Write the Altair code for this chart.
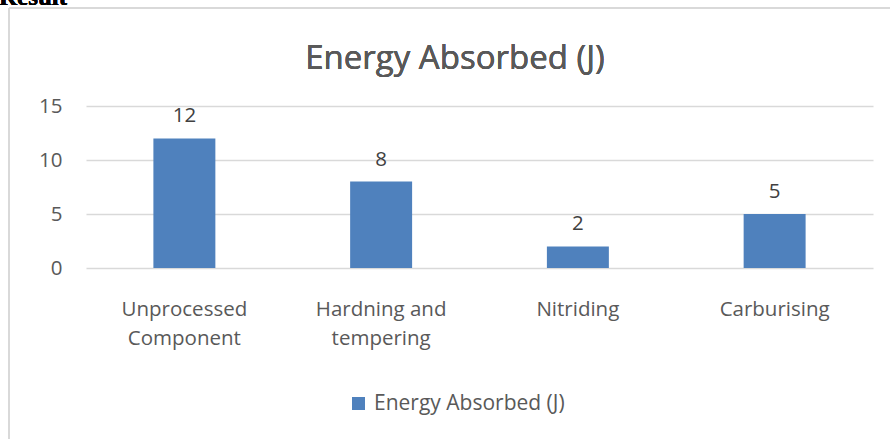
import altair as alt
import pandas as pd

categories = ["Unprocessed\nComponent", "Hardning and\ntempering", "Nitriding", "Carburising"]
values = [12, 8, 2, 5]
series_name = "Energy Absorbed (J)"
y_ticks = [0, 5, 10, 15]

df = pd.DataFrame({"category": categories, "value": values, "series": [series_name] * len(values)})

FONT = "Open Sans"
GREY = "#595959"
BLUE = "#4f81bd"
FS = 20.5

x_enc = alt.X(
    "category:N",
    sort=categories,
    scale=alt.Scale(paddingInner=0.685, paddingOuter=0.3425),
    axis=alt.Axis(
        title=None, labelAngle=0, labelExpr="split(datum.label, '\\n')",
        labelFontSize=FS, labelColor=GREY, labelFont=FONT, labelLineHeight=29,
        labelPadding=31, ticks=False, domain=False, grid=False, labelBaseline="top",
    ),
)
y_enc = alt.Y(
    "value:Q",
    scale=alt.Scale(domain=[0, 15], nice=False),
    axis=alt.Axis(
        title=None, values=y_ticks, labelFontSize=FS, labelColor=GREY, labelFont=FONT,
        labelPadding=24, ticks=False, domain=False, grid=True, gridColor="#d9d9d9", gridWidth=1.5,
    ),
)

bars = alt.Chart(df).mark_bar(color=BLUE).encode(
    x=x_enc,
    y=y_enc,
    color=alt.Color(
        "series:N",
        scale=alt.Scale(range=[BLUE]),
        legend=alt.Legend(
            title=None, orient="none", legendX=262, legendY=287, symbolType="square",
            symbolSize=170, symbolStrokeWidth=0, labelFontSize=21, labelColor=GREY, labelFont=FONT,
            labelOffset=5, padding=0, labelLimit=0,
        ),
    ),
)

labels = alt.Chart(df).mark_text(
    baseline="bottom", dy=-12, fontSize=FS, color="#404040", font=FONT
).encode(x=alt.X("category:N", sort=categories), y="value:Q", text="value:Q")

title = alt.Chart(df).mark_text(
    text=series_name, fontSize=33, font=FONT, color=GREY, align="center", baseline="alphabetic"
).encode(x=alt.value(369), y=alt.value(-37))

frame_top = alt.Chart(df).mark_rule(color="#d9d9d9", strokeWidth=2).encode(
    x=alt.value(-77), x2=alt.value(820), y=alt.value(-98)
)
frame_left = alt.Chart(df).mark_rule(color="#d9d9d9", strokeWidth=2).encode(
    x=alt.value(-77), y=alt.value(-98), y2=alt.value(340)
)
result_text = alt.Chart(df).mark_text(
    text="Result", font="Liberation Serif", fontWeight="bold", fontSize=25,
    align="left", baseline="alphabetic", color="black",
).encode(x=alt.value(-87), y=alt.value(-101.5))

chart = alt.layer(frame_top, frame_left, result_text, title, bars, labels).properties(
    width=787, height=162,
    autosize=alt.AutoSizeParams(type="none"),
    padding={"left": 86, "top": 106, "right": 17, "bottom": 171},
).configure_view(stroke=None)

chart.save("out.html", embed_options={"renderer": "svg", "actions": False})
